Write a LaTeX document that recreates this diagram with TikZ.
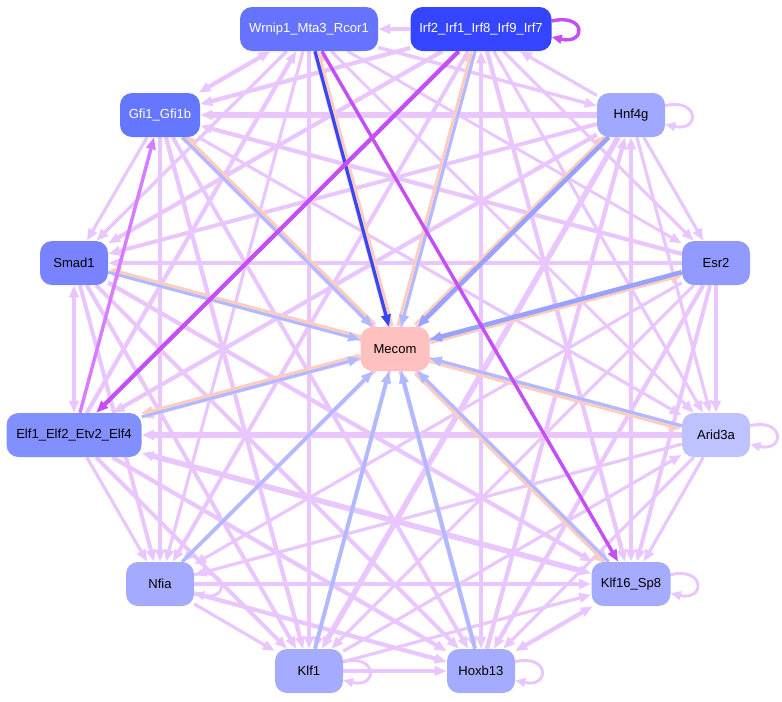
\documentclass[tikz,border=0pt]{standalone}
\usepackage{fontspec}
\setmainfont{Liberation Sans}
\usetikzlibrary{arrows.meta}
\pgfdeclarelayer{bg}
\pgfsetlayers{bg,main}
\definecolor{cLP}{HTML}{EAC6FF}
\definecolor{cMP}{HTML}{D67EFF}
\definecolor{cSP}{HTML}{C450F5}
\definecolor{cLB}{HTML}{B2BAFF}
\definecolor{cMB}{HTML}{98A2FF}
\definecolor{cPK}{HTML}{FFCCC0}
\definecolor{cDB}{HTML}{3848F0}
\definecolor{cW}{HTML}{6673FF}
\definecolor{cI}{HTML}{3545FF}
\definecolor{cG}{HTML}{6677FF}
\definecolor{cH}{HTML}{A1A8FF}
\definecolor{cS}{HTML}{7A83FF}
\definecolor{cE}{HTML}{939AFF}
\definecolor{cM}{HTML}{FFC0C0}
\definecolor{cEl}{HTML}{8290FF}
\definecolor{cA}{HTML}{BEC2FF}
\definecolor{cN}{HTML}{A4AAFF}
\definecolor{cK}{HTML}{A5ACFF}
\begin{document}
\begin{tikzpicture}[x=0.75pt,y=-0.75pt,
  font=\fontsize{9.8pt}{12pt}\selectfont,
  nd/.style={rounded corners=9pt, minimum height=33pt, minimum width=51pt, inner sep=2pt, text=black},
  pe/.style={draw=cLP, line width=#1, -{Triangle[length=9pt,width=7pt]}},
  pb/.style={draw=cLP, line width=#1, {Triangle[length=9pt,width=7pt]}-{Triangle[length=9pt,width=7pt]}},
  bl/.style={draw=cLB, line width=#1, -{Triangle[length=9pt,width=7pt]}},
  pkk/.style={draw=cPK, line width=2.2pt, -{Triangle[length=9pt,width=7pt]}, transform canvas={shift={#1}}},
  sl/.style={draw=cLP, line width=2.2pt, -{Triangle[length=7.5pt,width=6.5pt]}},
]
\useasboundingbox (0,0) rectangle (782,701);
% nodes
\node[nd, fill=cW, text=white, minimum width=103.5pt] (w) at (309,29) {Wrnip1\_Mta3\_Rcor1};
\node[nd, fill=cI, text=white, minimum width=105.75pt] (i) at (481,29) {Irf2\_Irf1\_Irf8\_Irf9\_Irf7};
\node[nd, fill=cG, text=white, minimum width=60pt] (g) at (160,115) {Gfi1\_Gfi1b};
\node[nd, fill=cH] (h) at (631,115) {Hnf4g};
\node[nd, fill=cS] (s) at (74,263) {Smad1};
\node[nd, fill=cE] (e) at (716,263) {Esr2};
\node[nd, fill=cM, minimum width=51.75pt] (m) at (395,349) {Mecom};
\node[nd, fill=cEl, minimum width=101.25pt] (el) at (74,435) {Elf1\_Elf2\_Etv2\_Elf4};
\node[nd, fill=cA] (a) at (716,435) {Arid3a};
\node[nd, fill=cN] (n) at (160,584) {Nfia};
\node[nd, fill=cK, minimum width=59.25pt] (k16) at (631,584) {Klf16\_Sp8};
\node[nd, fill=cK] (k1) at (309,671) {Klf1};
\node[nd, fill=cK] (x) at (481,671) {Hoxb13};
\begin{pgfonlayer}{bg}
% outer edges
\foreach \p/\q/\wd in {i/w/2.4pt, w/h/2.6pt, w/e/2.2pt, w/a/2.2pt, w/x/3.2pt, w/k1/2.4pt,
  w/n/2.4pt, el/w/3.2pt, w/s/2.6pt, h/i/2.4pt, i/g/3.2pt, i/e/2.4pt, i/a/2.4pt,
  i/k16/3.2pt, i/k1/2.4pt, i/n/3pt, i/s/3.2pt, h/g/4.2pt, h/e/2.4pt, h/a/2.4pt,
  x/h/3.2pt, h/k1/4.2pt, h/n/3pt, h/el/3.2pt, h/s/3pt, e/g/3.2pt, e/a/3pt, e/k16/3pt,
  e/x/3.2pt, e/k1/2.4pt, e/n/2.4pt, e/el/3pt, e/s/3.2pt, g/a/2.4pt, a/k16/2.4pt,
  a/x/2.4pt, k1/a/2.4pt, a/n/2.4pt, a/el/4.2pt, a/s/2.4pt, k1/k16/2.4pt, n/k16/3pt,
  s/k16/3.2pt, g/k16/3.2pt, k1/x/2.6pt, n/x/3.2pt, el/x/3.2pt, s/x/3pt, g/x/3pt,
  n/k1/2.4pt, el/k1/3pt, s/k1/3pt, g/k1/3.2pt, el/n/2.4pt, s/n/3pt, g/n/2.4pt, g/s/2.4pt}
  {\draw[pe=\wd] (\p) -- (\q);}
\foreach \p/\q/\wd in {w/g/3.2pt, i/x/3.2pt, h/k16/3.2pt, k16/x/3.2pt, el/k16/4.2pt, el/s/3.2pt}
  {\draw[pb=\wd] (\p) -- (\q);}
% self loops
\draw[sl] ([yshift=7pt]h.east) .. controls +(26pt,6pt) and +(26pt,-6pt) .. ([yshift=-7pt]h.east);
\draw[sl] ([yshift=7pt]a.east) .. controls +(26pt,6pt) and +(26pt,-6pt) .. ([yshift=-7pt]a.east);
\draw[sl] ([yshift=7pt]k16.east) .. controls +(26pt,6pt) and +(26pt,-6pt) .. ([yshift=-7pt]k16.east);
\draw[sl] ([yshift=7pt]n.east) .. controls +(26pt,6pt) and +(26pt,-6pt) .. ([yshift=-7pt]n.east);
\draw[sl] ([yshift=7pt]k1.east) .. controls +(26pt,6pt) and +(26pt,-6pt) .. ([yshift=-7pt]k1.east);
\draw[sl] ([yshift=7pt]x.east) .. controls +(26pt,6pt) and +(26pt,-6pt) .. ([yshift=-7pt]x.east);
\draw[sl, draw=cSP, line width=2.6pt] ([yshift=6pt]i.east) .. controls +(26pt,6pt) and +(26pt,-6pt) .. ([yshift=-6pt]i.east);
% Mecom edges (pink: from Mecom, drawn beside the blue ones)
\foreach \p/\sh in {w/{(3.1,-0.83)}, i/{(-3.1,-0.83)}, g/{(2.26,-2.27)}, h/{(-2.25,-2.27)},
  s/{(0.83,-3.1)}, e/{(0.83,3.1)}, el/{(-0.83,-3.1)}, a/{(-0.83,3.1)}, k16/{(-2.26,2.27)}}
  {\draw[pkk=\sh] (m) -- (\p);}
\foreach \p/\wd in {i/2.2pt, g/2.2pt, s/2.2pt, el/2.2pt, a/2.4pt, k16/2.2pt, n/2.6pt, k1/3pt, x/3pt}
  {\draw[bl=\wd] (\p) -- (m);}
\draw[bl=3.4pt, draw=cMB] (h) -- (m);
\draw[bl=3.4pt, draw=cMB] (e) -- (m);
\draw[bl=2.4pt, draw=cDB] (w) -- (m);
% strong purple edges
\draw[pe=2.6pt, draw=cMP] (el) -- (g);
\draw[pe=2.6pt, draw=cSP] (w) -- (k16);
\draw[pe=3.2pt, draw=cSP] (i) -- (el);
\end{pgfonlayer}
\end{tikzpicture}
\end{document}
